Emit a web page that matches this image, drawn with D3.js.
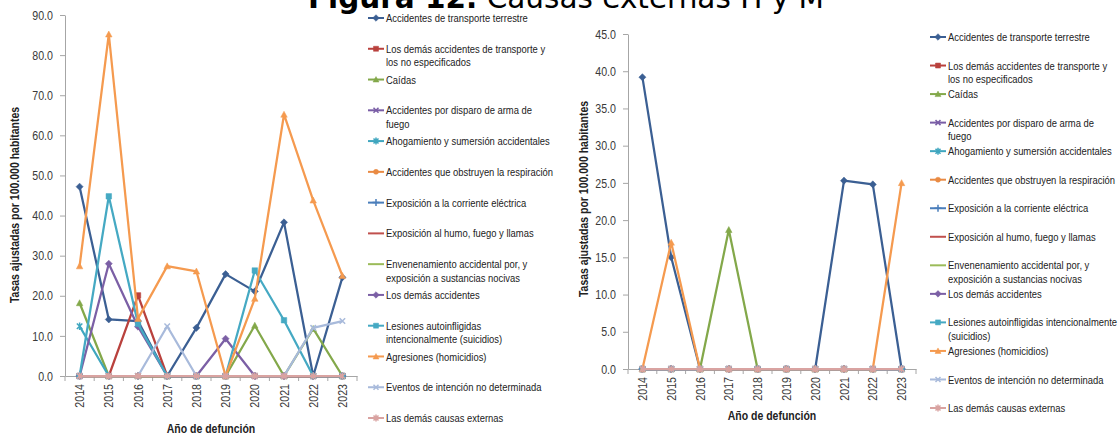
<!DOCTYPE html>
<html><head><meta charset="utf-8">
<script src="https://cdn.jsdelivr.net/npm/d3@7"></script>
<style>
html,body{margin:0;padding:0;background:#fff;overflow:hidden}
svg{display:block}
</style></head>
<body><svg id="c" width="1119" height="436"></svg>
<script>
// ---------- DATA ----------
const years = ["2014","2015","2016","2017","2018","2019","2020","2021","2022","2023"];
const causes = [
  "Accidentes de transporte terrestre",
  "Los demás accidentes de transporte y los no especificados",
  "Caídas",
  "Accidentes por disparo de arma de fuego",
  "Ahogamiento y sumersión accidentales",
  "Accidentes que obstruyen la respiración",
  "Exposición a la corriente eléctrica",
  "Exposición al humo, fuego y llamas",
  "Envenenamiento accidental por, y exposición a sustancias nocivas",
  "Los demás accidentes",
  "Lesiones autoinfligidas intencionalmente (suicidios)",
  "Agresiones (homicidios)",
  "Eventos de intención no determinada",
  "Las demás causas externas"
];
const seriesColors = ["#3b5f93","#b9413d","#83a84a","#7a5ea6","#3fa6bf","#e98a43","#4a7ebb",
  "#c0504d","#9bbb59","#7b5fa5","#45a9c3","#f59a4f","#a8badb","#d9a3a1"];
const seriesMarkers = ["diamond","square","triangle","x","star","circle","plus",
  null,null,"diamond","square","triangle","x","star"];

// Left panel (scale 0-90)
const leftTransporteTerrestre = [47.2,14.1,13.7,0,12.0,25.4,21.1,38.3,0,24.6];
const leftDemasTransporte     = [0,0,20.1,0,0,0,0,0,0,0];
const leftCaidas              = [18.2,0,0,0,0,0,12.6,0,11.8,0];
const leftArmaFuego           = [0,0,0,0,0,0,0,0,0,0];
const leftAhogamiento         = [12.4,0,0,0,0,0,0,0,0,0];
const leftObstruyen           = [0,0,0,0,0,0,0,0,0,0];
const leftCorriente           = [0,0,0,0,0,0,0,0,0,0];
const leftHumo                = [0,0,0,0,0,0,0,0,0,0];
const leftEnvenenamiento      = [0,0,0,0,0,0,0,0,0,0];
const leftDemasAccidentes     = [0,28.0,12.3,0,0,9.3,0,0,0,0];
const leftSuicidios           = [0,44.8,13.0,0,0,0,26.3,13.9,0,0];
const leftHomicidios          = [27.4,85.2,14.3,27.4,26.1,0,19.3,65.2,43.8,25.0];
const leftNoDeterminada       = [0,0,0,12.4,0,0,0,0,12.0,13.7];
const leftDemasCausas         = [0,0,0,0,0,0,0,0,0,0];

// Right panel (scale 0-45)
const rightTransporteTerrestre = [39.2,15.0,0,0,0,0,0,25.3,24.8,0];
const rightDemasTransporte     = [0,0,0,0,0,0,0,0,0,0];
const rightCaidas              = [0,0,0,18.7,0,0,0,0,0,0];
const rightArmaFuego           = [0,0,0,0,0,0,0,0,0,0];
const rightAhogamiento         = [0,0,0,0,0,0,0,0,0,0];
const rightObstruyen           = [0,0,0,0,0,0,0,0,0,0];
const rightCorriente           = [0,0,0,0,0,0,0,0,0,0];
const rightHumo                = [0,0,0,0,0,0,0,0,0,0];
const rightEnvenenamiento      = [0,0,0,0,0,0,0,0,0,0];
const rightDemasAccidentes     = [0,0,0,0,0,0,0,0,0,0];
const rightSuicidios           = [0,0,0,0,0,0,0,0,0,0];
const rightHomicidios          = [0,17.0,0,0,0,0,0,0,0,25.0];
const rightNoDeterminada       = [0,0,0,0,0,0,0,0,0,0];
const rightDemasCausas         = [0,0,0,0,0,0,0,0,0,0];

const leftTicks  = [0,10,20,30,40,50,60,70,80,90];
const rightTicks = [0,5,10,15,20,25,30,35,40,45];

const titleBold = "Figura 12.";
const titleRest = " Causas externas H y M";
const yTitle = "Tasas ajustadas por 100.000 habitantes";
const xTitle = "Año de defunción";

// ---------- DRAW ----------
const svg = d3.select("#c");
const FONT = "'Liberation Sans',Arial,sans-serif";
const NARROW = 0.82;   // emulate a condensed face
const AXIS = "#a6a6a6";

// title (partially cut at top)
const t = svg.append("text").attr("x", 566).attr("y", 8).attr("text-anchor","middle")
  .style("font-family","'DejaVu Sans',Verdana,sans-serif").style("font-size","29.5px").attr("fill","#000");
t.append("tspan").style("font-weight","bold").text(titleBold);
t.append("tspan").text(titleRest);

function markerPath(type, s) {
  const h = s/2;
  switch(type){
    case "diamond": return `M0,${-h-0.8}L${h+0.8},0L0,${h+0.8}L${-h-0.8},0Z`;
    case "square": return `M${-h},${-h}H${h}V${h}H${-h}Z`;
    case "triangle": return `M0,${-h-0.5}L${h+0.5},${h}L${-h-0.5},${h}Z`;
    case "circle": return d3.symbol(d3.symbolCircle, s*s*0.8)();
    case "x": return `M${-h},${-h}L${h},${h}M${-h},${h}L${h},${-h}`;
    case "star": return `M${-h},${-h}L${h},${h}M${-h},${h}L${h},${-h}M0,${-h-1}V${h+1}`;
    case "plus": return `M${-h-1},0H${h+1}M0,${-h-1}V${h+1}`;
  }
  return null;
}
const strokeOnly = t => t==="x"||t==="star"||t==="plus";

function drawMarker(g, type, color, x, y, s) {
  if (!type) return;
  const p = g.append("path").attr("d", markerPath(type, s)).attr("transform", `translate(${x},${y})`);
  if (strokeOnly(type)) p.attr("fill","none").attr("stroke", color).attr("stroke-width",1.5);
  else p.attr("fill", color).attr("stroke", color).attr("stroke-width",0.5);
}

function panel(cfg) {
  const g = svg.append("g");
  const x = d3.scaleBand().domain(years).range([cfg.x0, cfg.x1]);
  const y = d3.scaleLinear().domain([0, cfg.ticks[cfg.ticks.length-1]]).range([cfg.yb, cfg.yt]);

  // y axis
  const ya = g.append("g").attr("transform", `translate(${cfg.x0},0)`)
    .call(d3.axisLeft(y).tickValues(cfg.ticks).tickFormat(d3.format(".1f")).tickSize(5).tickPadding(7).tickSizeOuter(0));
  ya.select(".domain").attr("stroke", AXIS);
  ya.selectAll(".tick line").attr("stroke", AXIS);
  ya.selectAll("text").attr("x", -12/NARROW).attr("transform", `scale(${NARROW},1)`)
    .style("font-family", FONT).style("font-size","13px").attr("fill","#3a3a3a");

  // x axis
  const xa = g.append("g").attr("transform", `translate(0,${cfg.yb})`)
    .call(d3.axisBottom(x).tickSize(0).tickSizeOuter(0));
  xa.select(".domain").attr("stroke", AXIS);
  xa.selectAll("text").attr("transform",`rotate(-90) scale(${NARROW},1)`).attr("x",-8/NARROW).attr("y",0).attr("dy","0.35em")
    .style("text-anchor","end").style("font-family", FONT).style("font-size","13px").attr("fill","#3a3a3a");
  const edges = years.map(d => x(d)).concat([x(years[years.length-1]) + x.bandwidth()]);
  g.append("g").selectAll("line").data(edges).join("line")
    .attr("x1", d=>d).attr("x2", d=>d).attr("y1", cfg.yb).attr("y2", cfg.yb+5).attr("stroke", AXIS);

  // axis titles
  g.append("text").attr("transform", `translate(${cfg.yTitleX},${cfg.yTitleY}) rotate(-90) scale(${NARROW},1)`)
    .attr("text-anchor","middle").style("font-family", FONT).style("font-size","12.8px").style("font-weight","bold")
    .attr("fill","#222").text(yTitle);
  g.append("text").attr("transform", `translate(${(cfg.x0+cfg.x1)/2},${cfg.xTitleY}) scale(${NARROW},1)`).attr("text-anchor","middle")
    .style("font-family", FONT).style("font-size","12.8px").style("font-weight","bold").attr("fill","#222").text(xTitle);

  // series
  const line = d3.line().x((d,i)=> x(years[i]) + x.bandwidth()/2).y(d => y(d));
  cfg.series.forEach((vals, si) => {
    const col = seriesColors[si];
    g.append("path").datum(vals).attr("d", line).attr("fill","none").attr("stroke", col)
      .attr("stroke-width", 2.25).attr("stroke-linejoin","round");
    vals.forEach((v,i) => drawMarker(g, seriesMarkers[si], col, x(years[i]) + x.bandwidth()/2, y(v), 5.5));
  });

  // legend
  const lg = g.append("g");
  causes.forEach((name, i) => {
    const cy = cfg.legY + i*cfg.legStep;
    const col = seriesColors[i];
    lg.append("line").attr("x1", cfg.legX).attr("x2", cfg.legX+16).attr("y1", cy).attr("y2", cy)
      .attr("stroke", col).attr("stroke-width", 2);
    drawMarker(lg, seriesMarkers[i], col, cfg.legX+8, cy, 5);
    const lines = cfg.legBreaks[i] || [name];
    const tx = lg.append("text").attr("transform", `translate(${cfg.legX+18},${cy}) scale(${NARROW},1)`)
      .style("font-family", FONT).style("font-size","11.5px").attr("fill","#222");
    lines.forEach((ln, k) => tx.append("tspan").attr("x", 0).attr("dy", k===0 ? "0.35em" : "13.5px").text(ln));
  });
}

function splitAt(name, n) { const w = name.split(" "); return [w.slice(0,n).join(" "), w.slice(n).join(" ")]; }

panel({
  x0: 65, x1: 357, yb: 376, yt: 15, ticks: leftTicks,
  yTitleX: 19, yTitleY: 205, xTitleY: 433,
  series: [leftTransporteTerrestre,leftDemasTransporte,leftCaidas,leftArmaFuego,leftAhogamiento,leftObstruyen,
    leftCorriente,leftHumo,leftEnvenenamiento,leftDemasAccidentes,leftSuicidios,leftHomicidios,leftNoDeterminada,leftDemasCausas],
  legX: 368, legY: 18, legStep: 30.77,
  legBreaks: {1: splitAt(causes[1],6), 3: splitAt(causes[3],6), 8: splitAt(causes[8],4), 10: splitAt(causes[10],2)}
});
panel({
  x0: 628, x1: 916, yb: 369, yt: 34, ticks: rightTicks,
  yTitleX: 588, yTitleY: 199, xTitleY: 420,
  series: [rightTransporteTerrestre,rightDemasTransporte,rightCaidas,rightArmaFuego,rightAhogamiento,rightObstruyen,
    rightCorriente,rightHumo,rightEnvenenamiento,rightDemasAccidentes,rightSuicidios,rightHomicidios,rightNoDeterminada,rightDemasCausas],
  legX: 930, legY: 37, legStep: 28.54,
  legBreaks: {1: splitAt(causes[1],6), 3: splitAt(causes[3],6), 8: splitAt(causes[8],4), 10: splitAt(causes[10],3)}
});
</script></body></html>
